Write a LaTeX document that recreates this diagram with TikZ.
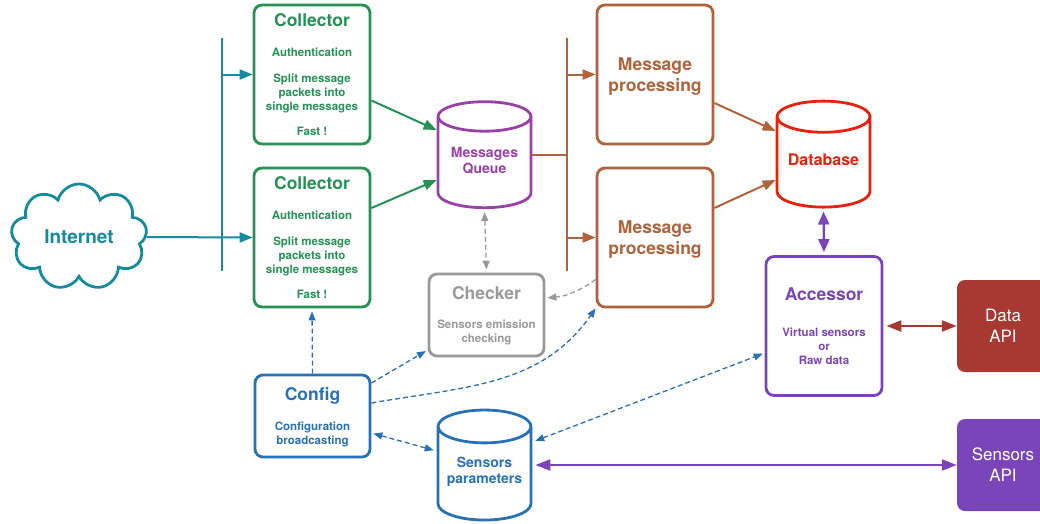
\documentclass[tikz,border=0pt]{standalone}
\usepackage{fontspec}
\setmainfont{TeX Gyre Heros}
\usepackage{tikz}
\usetikzlibrary{calc,arrows.meta,shapes.geometric,shapes.symbols}

\definecolor{netteal}{RGB}{22,138,158}
\definecolor{colgreen}{RGB}{38,145,85}
\definecolor{queuepurple}{RGB}{155,64,168}
\definecolor{procbrown}{RGB}{176,98,58}
\definecolor{dbred}{RGB}{232,32,12}
\definecolor{accpurple}{RGB}{122,69,184}
\definecolor{apired}{RGB}{168,56,50}
\definecolor{chkgray}{RGB}{153,153,153}
\definecolor{cfgblue}{RGB}{40,112,184}

\newcommand{\boxtitle}{\fontsize{17.5}{20}\selectfont}
\newcommand{\boxbody}{\fontsize{11.5}{14}\selectfont}

\tikzset{
    block/.style={draw=#1, text=#1, rectangle, rounded corners=8pt, line width=2.8pt,
            fill=white, align=center, inner sep=2pt, text depth=0pt, font=\bfseries\boxbody},
    tallbox/.style={block=#1, minimum width=116pt, minimum height=139pt},
    shortbox/.style={block=#1, minimum width=115pt, minimum height=82pt},
    store/.style={draw=#1, text=#1, cylinder, shape border rotate=90, aspect=0.4,
            line width=2.8pt, align=center, minimum width=93pt, minimum height=106pt,
            text depth=11pt, font=\bfseries\fontsize{14}{16}\selectfont},
    api/.style={fill=#1, text=white, rectangle, rounded corners=8pt, align=center,
            minimum width=92pt, minimum height=92pt, font=\fontsize{17}{21}\selectfont},
    feed/.style={draw=#1, line width=2pt, -{Triangle[length=13pt,width=10pt]}},
    both/.style={draw=#1, line width=2.2pt,
            {Triangle[length=13pt,width=11pt]}-{Triangle[length=13pt,width=11pt]}},
    link/.style={draw=#1, line width=1.3pt, dash pattern=on 5pt off 3pt,
            -{Triangle[length=9pt,width=7pt]}},
    twolink/.style={link=#1, {Triangle[length=9pt,width=7pt]}-{Triangle[length=9pt,width=7pt]}},
}

\begin{document}
\begin{tikzpicture}[x=1pt,y=1pt]
    \useasboundingbox (0,0) rectangle (1040,-523);

    \node[cloud, draw=netteal, text=netteal, line width=2.8pt, cloud puffs=9, aspect=1.3,
        minimum width=136pt, minimum height=103pt, font=\bfseries\fontsize{19}{22}\selectfont]
        (internet) at (79,-237) {Internet};

    \node[tallbox=colgreen] (col1) at (312,-74.5) {{\boxtitle Collector}\\[16pt]
        Authentication\\[12pt] Split message\\ packets into\\ single messages\\[11pt] Fast !};
    \node[tallbox=colgreen] (col2) at (312,-237.5) {{\boxtitle Collector}\\[16pt]
        Authentication\\[12pt] Split message\\ packets into\\ single messages\\[11pt] Fast !};

    \node[store=queuepurple] (mq) at (484.5,-165.5) {Messages\\ Queue};
    \node[store=dbred, font=\bfseries\fontsize{16}{18}\selectfont] (db) at (823.5,-165.5) {Database};
    \node[store=cfgblue, minimum height=110pt, text depth=14pt] (sp) at (484.5,-477) {Sensors\\ parameters};

    \node[tallbox=procbrown, font=\bfseries\fontsize{17.5}{21}\selectfont] (mp1) at (655,-74.5) {Message\\ processing};
    \node[tallbox=procbrown, font=\bfseries\fontsize{17.5}{21}\selectfont] (mp2) at (655,-237.5) {Message\\ processing};

    \node[tallbox=accpurple] (acc) at (824,-326) {{\boxtitle Accessor}\\[22pt]
        Virtual sensors\\ or\\ Raw data};
    \node[shortbox=chkgray] (chk) at (486.5,-315) {{\boxtitle Checker}\\[15pt]
        Sensors emission\\ checking};
    \node[shortbox=cfgblue] (cfg) at (312.5,-416) {{\boxtitle Config}\\[16pt]
        Configuration\\ broadcasting};

    \node[api=apired] (data) at (1003,-326) {Data\\ API};
    \node[api=accpurple] (sapi) at (1003,-465) {Sensors\\ API};

    \coordinate (tbustop) at (222,-38);
    \coordinate (tbusbot) at (222,-271);
    \coordinate (pbustop) at (567,-38);
    \coordinate (pbusbot) at (567,-271);

    \draw[netteal, line width=2pt] (tbustop) -- (tbusbot);
    \draw[feed=netteal] (col1.west -| tbustop) -- (col1.west);
    \draw[feed=netteal] (internet.east) -- (col2.west);

    \draw[feed=colgreen] ([yshift=-26pt]col1.east) -- ([yshift=35.5pt]mq.west);
    \draw[feed=colgreen] ([yshift=29.5pt]col2.east) -- ([yshift=-14.5pt]mq.west);

    \draw[procbrown, line width=2pt] (pbustop) -- (pbusbot);
    \draw[procbrown, line width=2pt] ([yshift=10.5pt]mq.east) -- ([yshift=10.5pt]mq.east -| pbustop);
    \draw[feed=procbrown] (mp1.west -| pbustop) -- (mp1.west);
    \draw[feed=procbrown] (mp2.west -| pbustop) -- (mp2.west);

    \draw[feed=procbrown] ([yshift=-28.5pt]mp1.east) -- ([yshift=34.5pt]db.west);
    \draw[feed=procbrown] ([yshift=29.5pt]mp2.east) -- ([yshift=-14.5pt]db.west);

    \draw[both=accpurple, shorten <=3pt, shorten >=3pt] (db.south) -- (acc.north);
    \draw[both=apired, {Triangle[length=15pt,width=11pt]}-{Triangle[length=15pt,width=11pt]},
        shorten <=3pt] (acc.east) -- (data.west);
    \draw[both=accpurple, {Triangle[length=15pt,width=11pt]}-{Triangle[length=15pt,width=11pt]},
        shorten <=3pt] ([yshift=12pt]sp.east) -- ([yshift=12pt]sp.east -| sapi.west);

    \draw[twolink=chkgray, shorten <=3pt, shorten >=3pt] (mq.south) -- (chk.north);
    \draw[link=chkgray, shorten >=2pt] ([yshift=-42pt]mp2.west) to[out=215,in=5] ([yshift=17pt]chk.east);

    \draw[link=cfgblue, shorten >=3pt] (cfg.north) -- (col2.south);
    \draw[link=cfgblue, shorten >=2pt] ([yshift=33pt]cfg.east) -- ([yshift=-35pt]chk.west);
    \draw[link=cfgblue] ([yshift=13pt]cfg.east) to[out=10,in=235] (mp2.south west);
    \draw[twolink=cfgblue, shorten <=2pt, shorten >=3pt] ([yshift=-17pt]cfg.east) -- ([yshift=26pt]sp.west);
    \draw[twolink=cfgblue, shorten <=3pt, shorten >=2pt] ([yshift=35pt]sp.east) -- ([yshift=-27pt]acc.west);
\end{tikzpicture}
\end{document}
